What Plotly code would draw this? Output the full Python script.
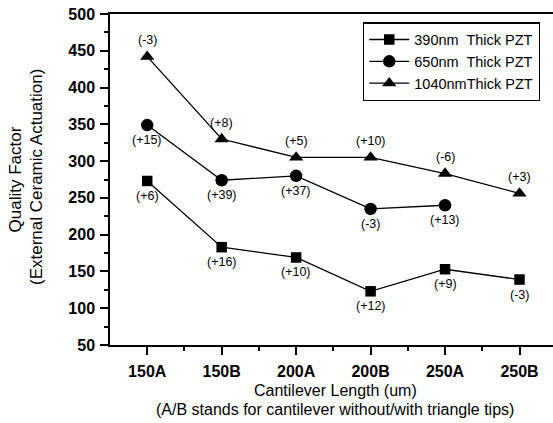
import plotly.graph_objects as go

categories = ["150A", "150B", "200A", "200B", "250A", "250B"]
q390 = [273, 183, 169, 123, 153, 139]
q650 = [349, 274, 280, 235, 240]
q1040 = [442, 330, 305, 305, 283, 256]
lab390 = ["(+6)", "(+16)", "(+10)", "(+12)", "(+9)", "(-3)"]
lab650 = ["(+15)", "(+39)", "(+37)", "(-3)", "(+13)"]
lab1040 = ["(-3)", "(+8)", "(+5)", "(+10)", "(-6)", "(+3)"]
names = ["390nm  Thick PZT", "650nm  Thick PZT", "1040nmThick PZT"]
y_ticks = [50, 100, 150, 200, 250, 300, 350, 400, 450, 500]

FONT = "Arial, Liberation Sans, sans-serif"
xi = list(range(len(categories)))

fig = go.Figure()
series = [
    (q390, lab390, "square", 10.5, -15),
    (q650, lab650, "circle", 12.5, -15),
    (q1040, lab1040, "triangle-up", 12.5, 16.5),
]
for (vals, labs, sym, sz, shift), nm in zip(series, names):
    xs = xi[:len(vals)]
    fig.add_trace(go.Scatter(
        x=xs, y=vals, name=nm, mode="lines+markers",
        line=dict(color="#000", width=1.3),
        marker=dict(symbol=sym, size=sz, color="#000"),
    ))
    for xv, yv, t in zip(xs, vals, labs):
        fig.add_annotation(x=xv, y=yv, text=t, showarrow=False, yshift=shift,
                           xanchor="center", yanchor="middle",
                           font=dict(family=FONT, size=12.5, color="#000"))

fig.update_layout(
    width=553, height=423,
    margin=dict(l=110, r=0, t=14, b=78),
    paper_bgcolor="white", plot_bgcolor="white",
    font=dict(family=FONT, color="#000"),
    showlegend=True,
    legend=dict(
        x=0.571, y=0.975, xanchor="left", yanchor="top",
        bgcolor="white", bordercolor="#000", borderwidth=1.3,
        font=dict(family=FONT, size=14.5, color="#000"),
        tracegroupgap=0, itemwidth=40,
    ),
)
fig.update_xaxes(
    range=[-0.5, 5.45], tickmode="array", tickvals=xi, ticktext=categories,
    showline=True, linecolor="#000", linewidth=1.5, mirror=True,
    ticks="outside", ticklen=8, tickwidth=1.5, tickcolor="#000",
    tickfont=dict(family=FONT, size=16, color="#000", weight="bold"),
    ticklabelstandoff=3,
    showgrid=False, zeroline=False,
    minor=dict(tickmode="array", tickvals=[i + 0.5 for i in xi],
               ticks="outside", ticklen=4, tickwidth=1.5, tickcolor="#000"),
)
fig.update_yaxes(
    range=[50, 500], tickmode="array", tickvals=y_ticks,
    showline=True, linecolor="#000", linewidth=1.5, mirror=False,
    ticks="outside", ticklen=8, tickwidth=1.5, tickcolor="#000",
    tickfont=dict(family=FONT, size=16, color="#000", weight="bold"),
    ticklabelstandoff=2,
    showgrid=False, zeroline=False,
    minor=dict(dtick=25, tick0=0, ticks="outside", ticklen=4, tickwidth=1.5, tickcolor="#000"),
)

def px_x(p):
    return (p - 110) / 443.0

def px_y(p):
    return (345 - p) / 331.0

annos = [
    ("Cantilever Length (um)", px_x(335), px_y(390), 0, 16),
    ("(A/B stands for cantilever without/with triangle tips)", px_x(335), px_y(409), 0, 16),
    ("Quality Factor", px_x(14.5), px_y(180), -90, 17),
    ("(External Ceramic Actuation)", px_x(36), px_y(177), -90, 17),
]
for txt, ax, ay, ang, fs in annos:
    fig.add_annotation(text=txt, x=ax, y=ay, xref="paper", yref="paper",
                       xanchor="center", yanchor="middle", showarrow=False,
                       textangle=ang, font=dict(family=FONT, size=fs, color="#000"))

fig.write_html("out.html", config={"displayModeBar": False},
               post_script="document.body.style.margin='0';")
